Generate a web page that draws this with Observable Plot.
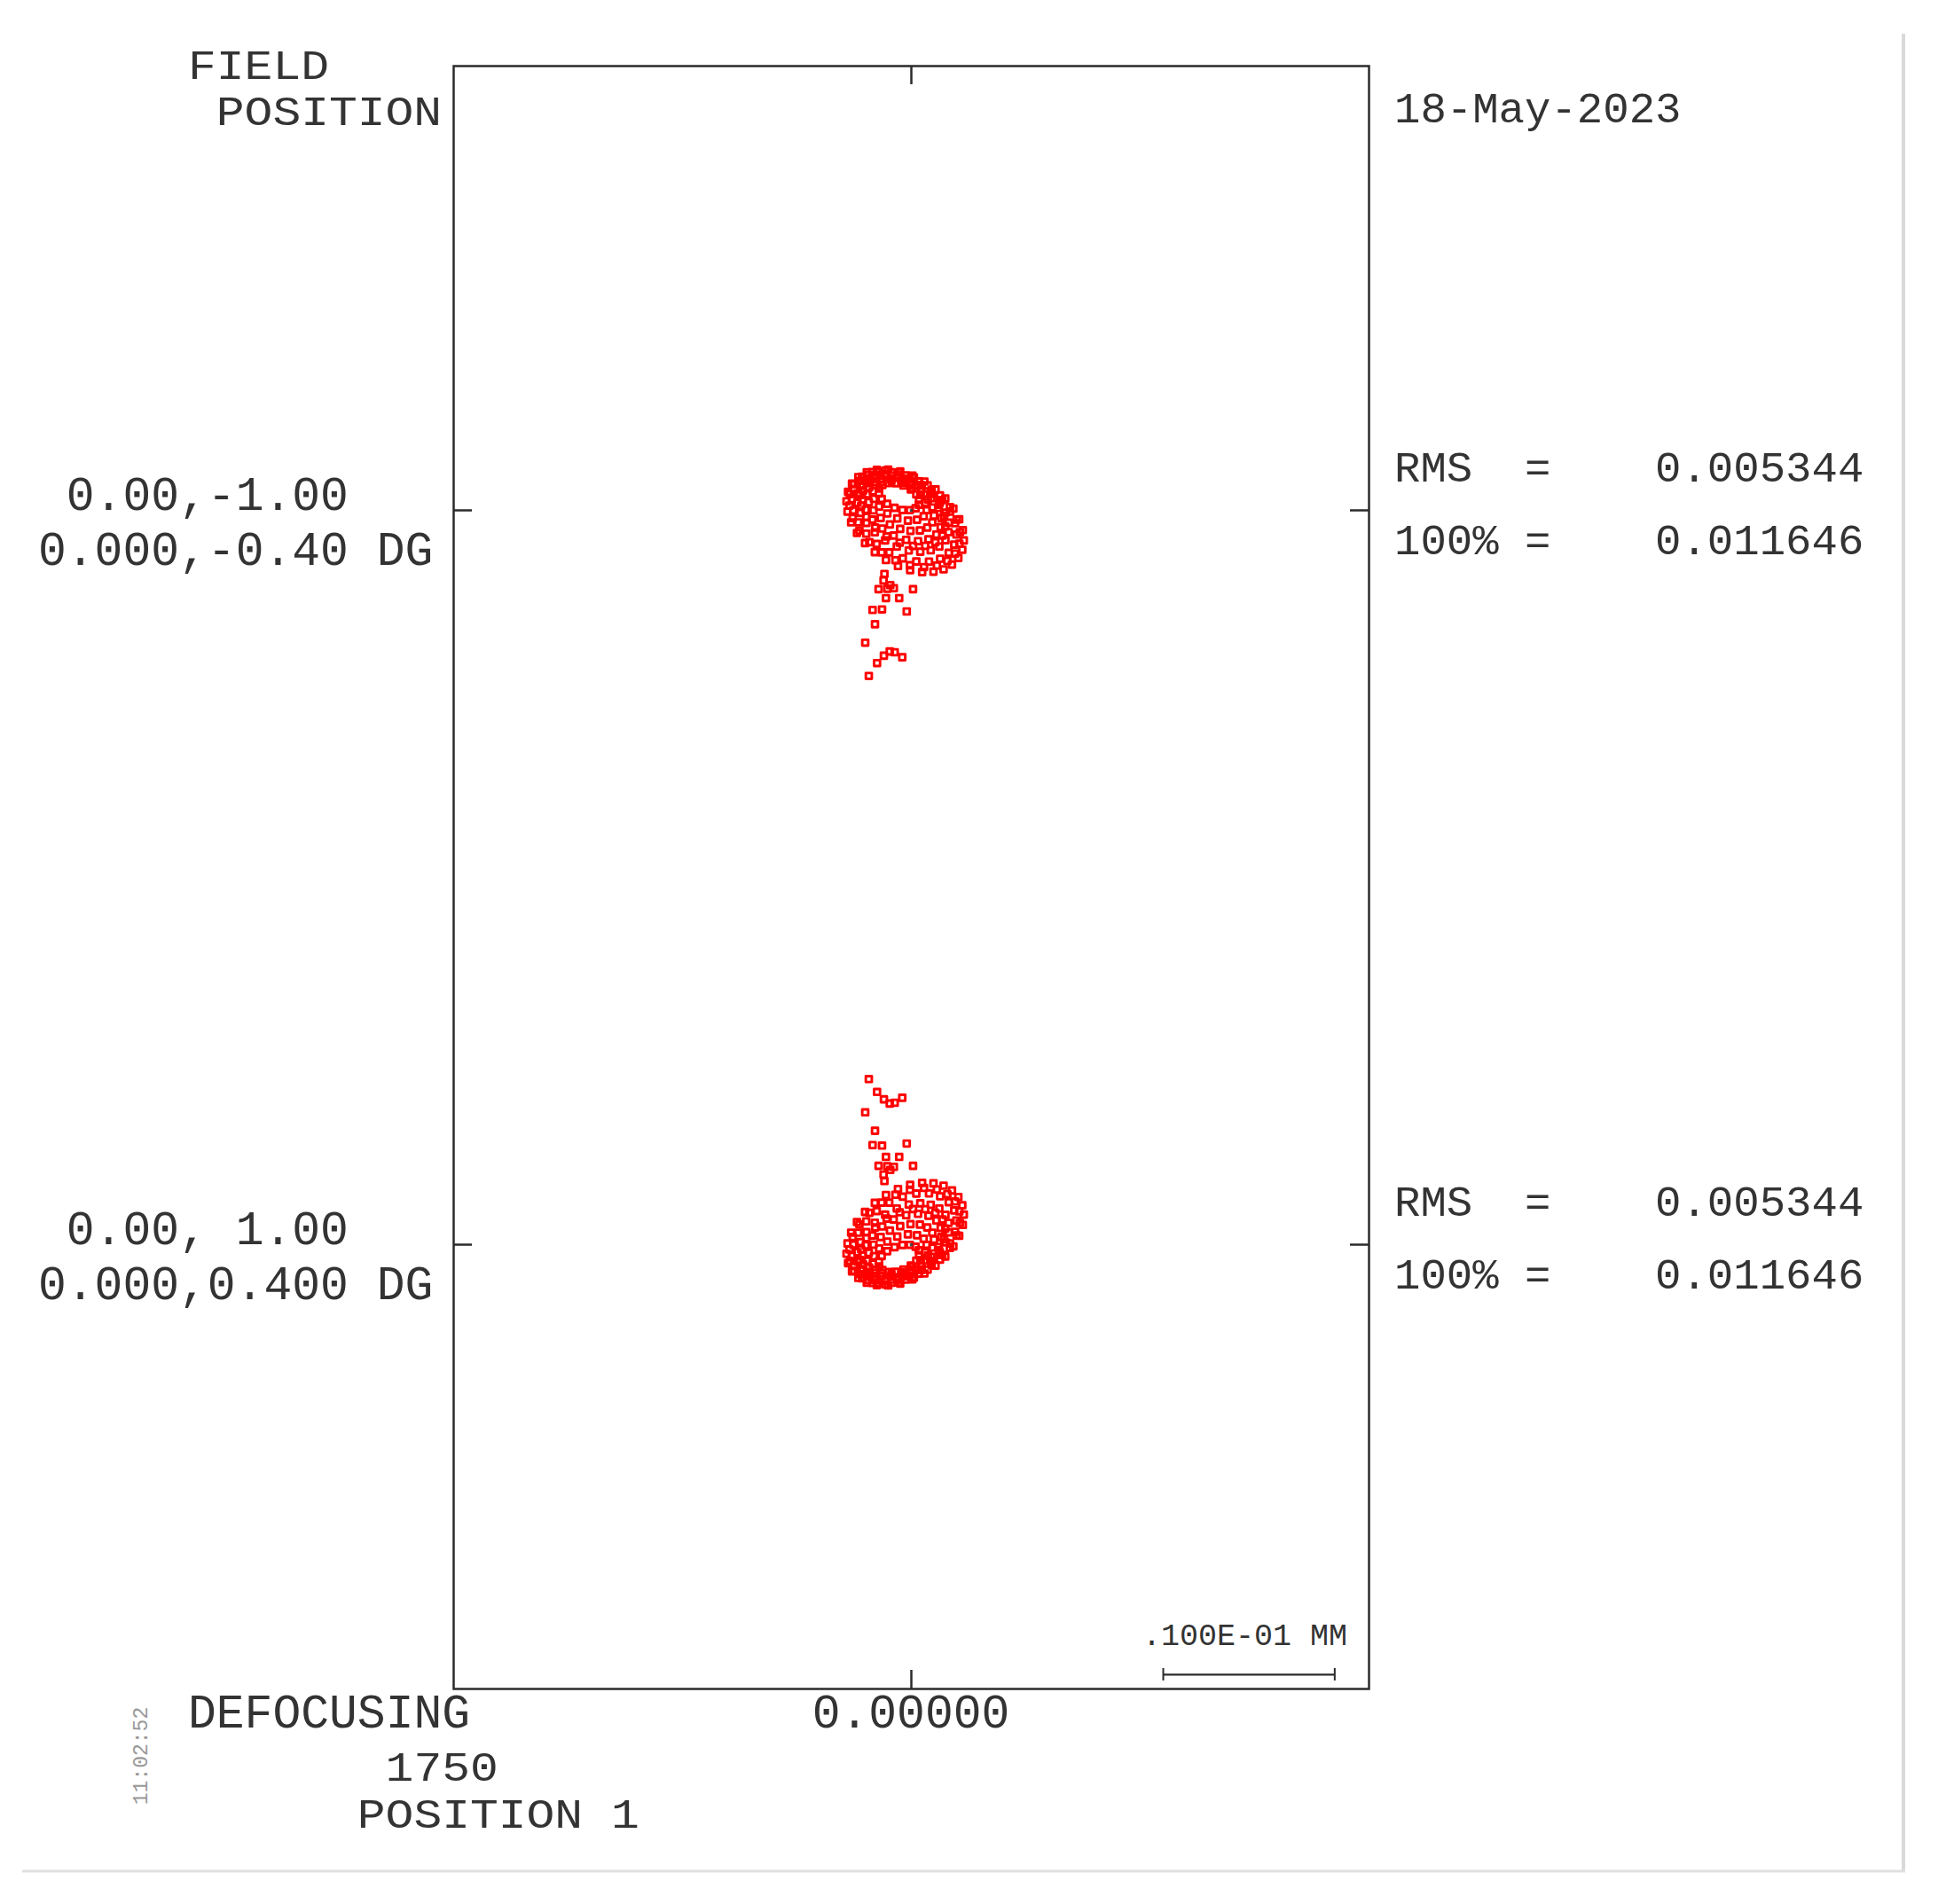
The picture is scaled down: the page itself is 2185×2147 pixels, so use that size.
<!DOCTYPE html>
<html>
<head>
<meta charset="utf-8">
<script src="https://cdn.jsdelivr.net/npm/d3@7"></script>
<script src="https://cdn.jsdelivr.net/npm/@observablehq/plot@0.6"></script>
<style>
html, body { margin: 0; padding: 0; background: #fff; }
#chart { width: 2185px; height: 2147px; }
</style>
</head>
<body>
<div id="chart"></div>
<script>
// ---------------- DATA (spot coordinates in micrometres, relative to the chief ray, y up) ----------------
const fieldNames = ["0.00,-1.00", "0.00, 1.00"];
const fieldAngles = ["0.000,-0.40 DG", "0.000,0.400 DG"];
const rmsValues = ["0.005344", "0.005344"];
const fullValues = ["0.011646", "0.011646"];
const dateLabel = "18-May-2023";
const timeLabel = "11:02:52";
const defocusValue = "0.00000";
const wavelengthLabel = "1750";
const positionLabel = "POSITION 1";
const scaleBarMM = 0.01;
const scaleBarLabel = ".100E-01 MM";

const spotUpper = [
  [0.44,0.33],[-1.88,1.27],[0.25,0.12],[0.45,0.62],[-1.89,0.98],[-1.69,1.48],[-0.09,0.01],[0.29,0.93],
  [-1.73,0.67],[-1.35,1.59],[-0.52,0.02],[-0.03,1.22],[-1.41,0.38],[-0.92,1.58],[-0.98,0.15],[-0.46,1.45],
  [0.72,-0.34],[0.89,0.01],[-2.25,1.11],[-2.08,1.46],[0.33,-0.55],[0.82,0.45],[-2.18,0.67],[-1.69,1.67],
  [-0.20,-0.60],[0.52,0.90],[-1.88,0.22],[-1.16,1.72],[-0.82,-0.47],[0.04,1.30],[-1.40,-0.18],[-0.54,1.59],
  [1.22,-0.70],[-2.46,1.34],[0.93,-1.00],[1.32,-0.30],[-2.56,0.94],[-2.17,1.64],[0.50,-1.17],[1.24,0.17],
  [-2.48,0.48],[-1.74,1.81],[-0.05,-1.20],[0.97,0.64],[-2.21,0.00],[-1.19,1.84],[-0.65,-1.08],[0.55,1.09],
  [-1.79,-0.45],[-0.59,1.72],[-1.25,-0.82],[0.01,1.46],
  [1.46,-1.41],[1.71,-0.98],[-2.81,1.16],[-2.56,1.59],[1.00,-1.69],[1.75,-0.45],[-2.85,0.63],[-2.10,1.87],
  [0.39,-1.80],[1.56,0.14],[-2.66,0.04],[-1.49,1.98],[-0.30,-1.72],[1.17,0.72],[-2.27,-0.54],[-0.80,1.90],
  [-1.03,-1.47],[0.60,1.24],[-1.70,-1.06],[-0.07,1.65],
  [1.81,-1.47],[-2.83,1.42],[1.40,-1.86],[1.98,-0.94],[-3.00,0.89],[-2.42,1.81],[0.81,-2.07],[1.91,-0.32],
  [-2.93,0.27],[-1.83,2.02],[0.10,-2.08],[1.61,0.33],[-2.63,-0.38],[-1.12,2.03],[-0.68,-1.89],[1.09,0.95],
  [-2.11,-1.00],[-0.34,1.84],[-1.44,-1.52],[0.42,1.47],
  [1.99,-1.74],[-2.95,1.46],[1.63,-2.11],[2.17,-1.27],[-3.13,0.99],[-2.59,1.83],[1.13,-2.33],[2.18,-0.72],
  [-3.14,0.44],[-2.09,2.05],[0.52,-2.41],[2.00,-0.13],[-2.96,-0.15],[-1.48,2.13],[-0.15,-2.34],[1.66,0.45],
  [-2.62,-0.73],[-0.81,2.06],[-0.85,-2.11],[1.17,1.00],[-2.13,-1.28],[-0.11,1.83],[-1.53,-1.75],[0.57,1.47],
  [2.18,-2.48],[2.50,-2.00],[-3.34,1.24],[-3.02,1.72],[1.68,-2.82],[2.63,-1.41],[-3.47,0.65],[-2.52,2.06],
  [1.03,-2.99],[2.55,-0.75],[-3.39,-0.01],[-1.87,2.23],[0.29,-2.98],[2.26,-0.07],[-3.10,-0.70],[-1.13,2.22],
  [-0.50,-2.80],[1.79,0.60],[-2.63,-1.36],[-0.34,2.04],[-1.29,-2.45],[1.18,1.20],[-2.02,-1.96],[0.45,1.69],
  [2.55,-2.52],[-3.33,1.53],[2.10,-2.95],[2.80,-1.94],[-3.58,0.95],[-2.88,1.96],[1.49,-3.22],[2.83,-1.27],
  [-3.61,0.28],[-2.27,2.23],[0.74,-3.31],[2.64,-0.54],[-3.42,-0.45],[-1.52,2.32],[-0.08,-3.20],[2.25,0.19],
  [-3.03,-1.18],[-0.70,2.21],[-0.93,-2.91],[1.67,0.87],[-2.45,-1.86],[0.15,1.92],[-1.73,-2.45],[0.95,1.46],
  [2.74,-2.78],[-3.46,1.56],[2.37,-3.16],[2.97,-2.30],[-3.69,1.08],[-3.09,1.94],[1.88,-3.44],[3.06,-1.75],
  [-3.78,0.53],[-2.60,2.22],[1.29,-3.58],[3.00,-1.15],[-3.72,-0.07],[-2.01,2.36],[0.63,-3.60],[2.79,-0.52],
  [-3.51,-0.70],[-1.35,2.38],[-0.07,-3.49],[2.45,0.10],[-3.17,-1.32],[-0.65,2.27],[-0.78,-3.25],[1.98,0.69],
  [-2.70,-1.91],[0.06,2.03],[-1.48,-2.90],[1.41,1.22],[-2.13,-2.44],[0.76,1.68],
  [-1.57,-3.71],[-1.62,-4.09],[-1.91,-4.60],[-1.40,-4.57],[-1.02,-4.54],[-1.23,-4.36],[0.10,-4.60],[-1.48,-5.12],
  [-0.71,-5.12],[-2.26,-5.81],[-1.71,-5.78],[-0.27,-5.90],[-2.12,-6.64],[-2.69,-7.72],[-2.00,-8.91],[-1.60,-8.48],
  [-1.26,-8.23],[-0.97,-8.28],[-0.53,-8.57],[-2.48,-9.66]
];

const spotLower = [
  [0.44,-0.33],[-1.88,-1.27],[0.25,-0.12],[0.45,-0.62],[-1.89,-0.98],[-1.69,-1.48],[-0.09,-0.01],[0.29,-0.93],
  [-1.73,-0.67],[-1.35,-1.59],[-0.52,-0.02],[-0.03,-1.22],[-1.41,-0.38],[-0.92,-1.58],[-0.98,-0.15],[-0.46,-1.45],
  [0.72,0.34],[0.89,-0.01],[-2.25,-1.11],[-2.08,-1.46],[0.33,0.55],[0.82,-0.45],[-2.18,-0.67],[-1.69,-1.67],
  [-0.20,0.60],[0.52,-0.90],[-1.88,-0.22],[-1.16,-1.72],[-0.82,0.47],[0.04,-1.30],[-1.40,0.18],[-0.54,-1.59],
  [1.22,0.70],[-2.46,-1.34],[0.93,1.00],[1.32,0.30],[-2.56,-0.94],[-2.17,-1.64],[0.50,1.17],[1.24,-0.17],
  [-2.48,-0.48],[-1.74,-1.81],[-0.05,1.20],[0.97,-0.64],[-2.21,0.00],[-1.19,-1.84],[-0.65,1.08],[0.55,-1.09],
  [-1.79,0.45],[-0.59,-1.72],[-1.25,0.82],[0.01,-1.46],
  [1.46,1.41],[1.71,0.98],[-2.81,-1.16],[-2.56,-1.59],[1.00,1.69],[1.75,0.45],[-2.85,-0.63],[-2.10,-1.87],
  [0.39,1.80],[1.56,-0.14],[-2.66,-0.04],[-1.49,-1.98],[-0.30,1.72],[1.17,-0.72],[-2.27,0.54],[-0.80,-1.90],
  [-1.03,1.47],[0.60,-1.24],[-1.70,1.06],[-0.07,-1.65],
  [1.81,1.47],[-2.83,-1.42],[1.40,1.86],[1.98,0.94],[-3.00,-0.89],[-2.42,-1.81],[0.81,2.07],[1.91,0.32],
  [-2.93,-0.27],[-1.83,-2.02],[0.10,2.08],[1.61,-0.33],[-2.63,0.38],[-1.12,-2.03],[-0.68,1.89],[1.09,-0.95],
  [-2.11,1.00],[-0.34,-1.84],[-1.44,1.52],[0.42,-1.47],
  [1.99,1.74],[-2.95,-1.46],[1.63,2.11],[2.17,1.27],[-3.13,-0.99],[-2.59,-1.83],[1.13,2.33],[2.18,0.72],
  [-3.14,-0.44],[-2.09,-2.05],[0.52,2.41],[2.00,0.13],[-2.96,0.15],[-1.48,-2.13],[-0.15,2.34],[1.66,-0.45],
  [-2.62,0.73],[-0.81,-2.06],[-0.85,2.11],[1.17,-1.00],[-2.13,1.28],[-0.11,-1.83],[-1.53,1.75],[0.57,-1.47],
  [2.18,2.48],[2.50,2.00],[-3.34,-1.24],[-3.02,-1.72],[1.68,2.82],[2.63,1.41],[-3.47,-0.65],[-2.52,-2.06],
  [1.03,2.99],[2.55,0.75],[-3.39,0.01],[-1.87,-2.23],[0.29,2.98],[2.26,0.07],[-3.10,0.70],[-1.13,-2.22],
  [-0.50,2.80],[1.79,-0.60],[-2.63,1.36],[-0.34,-2.04],[-1.29,2.45],[1.18,-1.20],[-2.02,1.96],[0.45,-1.69],
  [2.55,2.52],[-3.33,-1.53],[2.10,2.95],[2.80,1.94],[-3.58,-0.95],[-2.88,-1.96],[1.49,3.22],[2.83,1.27],
  [-3.61,-0.28],[-2.27,-2.23],[0.74,3.31],[2.64,0.54],[-3.42,0.45],[-1.52,-2.32],[-0.08,3.20],[2.25,-0.19],
  [-3.03,1.18],[-0.70,-2.21],[-0.93,2.91],[1.67,-0.87],[-2.45,1.86],[0.15,-1.92],[-1.73,2.45],[0.95,-1.46],
  [2.74,2.78],[-3.46,-1.56],[2.37,3.16],[2.97,2.30],[-3.69,-1.08],[-3.09,-1.94],[1.88,3.44],[3.06,1.75],
  [-3.78,-0.53],[-2.60,-2.22],[1.29,3.58],[3.00,1.15],[-3.72,0.07],[-2.01,-2.36],[0.63,3.60],[2.79,0.52],
  [-3.51,0.70],[-1.35,-2.38],[-0.07,3.49],[2.45,-0.10],[-3.17,1.32],[-0.65,-2.27],[-0.78,3.25],[1.98,-0.69],
  [-2.70,1.91],[0.06,-2.03],[-1.48,2.90],[1.41,-1.22],[-2.13,2.44],[0.76,-1.68],
  [-1.57,3.71],[-1.62,4.09],[-1.91,4.60],[-1.40,4.57],[-1.02,4.54],[-1.23,4.36],[0.10,4.60],[-1.48,5.12],
  [-0.71,5.12],[-2.26,5.81],[-1.71,5.78],[-0.27,5.90],[-2.12,6.64],[-2.69,7.72],[-2.00,8.91],[-1.60,8.48],
  [-1.26,8.23],[-0.97,8.28],[-0.53,8.57],[-2.48,9.66]
];

// ---------------- LAYOUT ----------------
const W = 2185, H = 2147;
const frameL = 511, frameR = 1543, frameT = 74, frameB = 1904;
const plotW = frameR - frameL, plotH = frameB - frameT;
const xDomain = [-26.69, 26.69];      // micrometres across the frame
const yDomain = [-47.34, 47.34];
const fieldY = [21.42, -21.42];       // centre of each field cell
const tickLen = 21;
const ink = "#2b2b2b";

const points = [
  ...spotUpper.map(([x, y]) => ({x, y: y + fieldY[0]})),
  ...spotLower.map(([x, y]) => ({x, y: y + fieldY[1]}))
];
const barRight = xDomain[1] - 2.0;
const barLeft = barRight - scaleBarMM * 1000;
const barY = yDomain[0] + 0.83;
const capH = 0.36;

const chart = Plot.plot({
  width: W,
  height: H,
  marginLeft: frameL,
  marginRight: W - frameR,
  marginTop: frameT,
  marginBottom: H - frameB,
  x: {domain: xDomain, axis: null},
  y: {domain: yDomain, axis: null},
  style: {background: "#fff"},
  marks: [
    Plot.dot(points, {x: "x", y: "y", symbol: "square", r: 3.8, stroke: "#ff0000", strokeWidth: 2.9, fill: "none", strokeLinejoin: "round"}),
    Plot.dot(fieldY, {x: () => 0, y: d => d, symbol: "square", r: 1.4, fill: "#444", stroke: "#444", strokeWidth: 1}),
    Plot.frame({stroke: ink, strokeWidth: 2.5}),
    Plot.tickX([0], {x: d => d, stroke: ink, strokeWidth: 2.5, insetBottom: plotH - tickLen}),
    Plot.tickX([0], {x: d => d, stroke: ink, strokeWidth: 2.5, insetTop: plotH - tickLen}),
    Plot.tickY(fieldY, {y: d => d, stroke: ink, strokeWidth: 2.5, insetRight: plotW - tickLen}),
    Plot.tickY(fieldY, {y: d => d, stroke: ink, strokeWidth: 2.5, insetLeft: plotW - tickLen}),
    Plot.ruleY([barY], {x1: barLeft, x2: barRight, stroke: ink, strokeWidth: 2.2}),
    Plot.ruleX([barLeft, barRight], {y1: barY - capH, y2: barY + capH, stroke: ink, strokeWidth: 2})
  ]
});
document.getElementById("chart").appendChild(chart);

// ---------------- TEXT ----------------
const svg = d3.select(chart);
const xs = chart.scale("x"), ys = chart.scale("y");
const mono = "'Liberation Mono','Courier New',monospace";
const textInk = "#333";
const big = 53, mid = 49;
const col = 0.6 * big;   // monospace advance of the large text
function txt(x, y, s, size, anchor = "start", color = textInk) {
  return svg.append("text")
    .attr("x", x).attr("y", y)
    .attr("font-family", mono).attr("font-size", size)
    .attr("fill", color).attr("text-anchor", anchor)
    .style("white-space", "pre")
    .text(s);
}
// tightly stacked label lines: slightly smaller glyphs widened back to the same column pitch
function txtWide(x, y, s, size, pitch) {
  return svg.append("text")
    .attr("transform", `translate(${x},${y}) scale(${pitch / (0.6 * size)},1)`)
    .attr("font-family", mono).attr("font-size", size)
    .attr("fill", textInk).attr("text-anchor", "start")
    .style("white-space", "pre")
    .text(s);
}
const left0 = 212;
txtWide(left0, 89, "FIELD", 46, col);
txtWide(left0 + col, 140.5, "POSITION", 46, col);
fieldY.forEach((fy, i) => {
  const yy = ys.apply(fy);
  txt(43 + col, yy, fieldNames[i], big);
  txt(43, yy + 62, fieldAngles[i], big);
  txt(1572, yy - 32, "RMS  =    " + rmsValues[i], mid);
  txt(1572, yy + 50, "100% =    " + fullValues[i], mid);
});
txt(1572, 138, dateLabel, mid);
txt(left0, 1948, "DEFOCUSING", big);
txt(xs.apply(0), 1948, defocusValue, big, "middle");
txtWide(left0 + 7 * col, 2008, wavelengthLabel, 46, col);
txtWide(left0 + 6 * col, 2060.5, positionLabel, 46, col);
txt(1519, 1855, scaleBarLabel, 35, "end");
svg.append("text")
  .attr("transform", "translate(166,1980) rotate(-90)")
  .attr("font-family", mono).attr("font-size", 23).attr("fill", "#999")
  .attr("text-anchor", "middle")
  .text(timeLabel);

// page border lines
svg.append("line").attr("x1", 2146).attr("x2", 2146).attr("y1", 38).attr("y2", 2110)
  .attr("stroke", "#d9d9d9").attr("stroke-width", 4);
svg.append("line").attr("x1", 25).attr("x2", 2148).attr("y1", 2110).attr("y2", 2110)
  .attr("stroke", "#e0e0e0").attr("stroke-width", 3);
</script>
</body>
</html>
